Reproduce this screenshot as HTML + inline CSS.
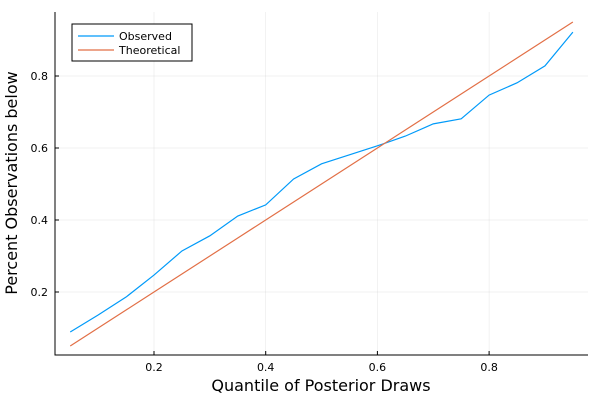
<!DOCTYPE html>
<html><head><meta charset="utf-8"><style>
body{margin:0;background:#fff}
svg{font-family:"DejaVu Sans","Liberation Sans",sans-serif}
</style></head><body>
<svg id="c" width="600" height="400"></svg>
<script>
const xs=[0.05,0.1,0.15,0.2,0.25,0.3,0.35,0.4,0.45,0.5,0.55,0.6,0.65,0.7,0.75,0.8,0.85,0.9,0.95];
const observed=[0.089,0.136,0.186,0.247,0.314,0.356,0.411,0.442,0.514,0.556,0.581,0.606,0.633,0.667,0.681,0.747,0.781,0.828,0.922];
const theoretical=[0.05,0.1,0.15,0.2,0.25,0.3,0.35,0.4,0.45,0.5,0.55,0.6,0.65,0.7,0.75,0.8,0.85,0.9,0.95];
const xTicks=[0.2,0.4,0.6,0.8];
const yTicks=[0.2,0.4,0.6,0.8];
const NS="http://www.w3.org/2000/svg",svg=document.getElementById('c');
const X=v=>154+(v-0.2)*558.5, Y=v=>292-(v-0.2)*360;
const L=55,R=588,T=12,B=355;
function mk(t,a,p){const e=document.createElementNS(NS,t);for(const k in a)e.setAttribute(k,a[k]);(p||svg).appendChild(e);return e;}
xTicks.forEach(v=>{
 const g=mk('line',{x1:X(v),x2:X(v),y1:T,y2:B,stroke:'#000','stroke-opacity':0.1,'stroke-width':0.5});
 
 
 const t=mk('text',{x:X(v),y:371,'font-size':11,'text-anchor':'middle'});t.textContent=v.toFixed(1);
 
 
 mk('line',{x1:X(v),x2:X(v),y1:B,y2:B-4,stroke:'#000'});
});
yTicks.forEach(v=>{
 const g=mk('line',{x1:L,x2:R,y1:Y(v),y2:Y(v),stroke:'#000','stroke-opacity':0.1,'stroke-width':0.5});
 
 
 const t=mk('text',{x:48,y:Y(v)+4,'font-size':11,'text-anchor':'end'});t.textContent=v.toFixed(1);
 
 
 mk('line',{x1:L,x2:L+4,y1:Y(v),y2:Y(v),stroke:'#000'});
});
const ax=mk('path',{d:`M${L} ${T}V${B}H${R}`,fill:'none',stroke:'#000','stroke-width':1});


const s1=mk('polyline',{points:xs.map((x,i)=>X(x)+','+Y(observed[i])).join(' '),fill:'none',stroke:'#009af9','stroke-width':1.2});


const s2=mk('polyline',{points:xs.map((x,i)=>X(x)+','+Y(theoretical[i])).join(' '),fill:'none',stroke:'#e26f46','stroke-width':1.2});


</script>
<svg style="position:absolute;left:0;top:0" width="600" height="400">
<g>
<rect x="72" y="24" width="120" height="37" fill="#fff" stroke="#000" stroke-width="1"/>
<line x1="78" x2="114" y1="36" y2="36" stroke="#009af9" stroke-width="1.2"/>
<text x="119" y="40" font-size="11">Observed</text>
<line x1="78" x2="114" y1="50" y2="50" stroke="#e26f46" stroke-width="1.2"/>
<text x="119" y="54" font-size="11">Theoretical</text>
</g>
<text x="321" y="391" font-size="16" text-anchor="middle">Quantile of Posterior Draws</text>
<text x="17" y="183" font-size="16" text-anchor="middle" transform="rotate(-90 17 183)">Percent Observations below</text>
</svg>
</body></html>
